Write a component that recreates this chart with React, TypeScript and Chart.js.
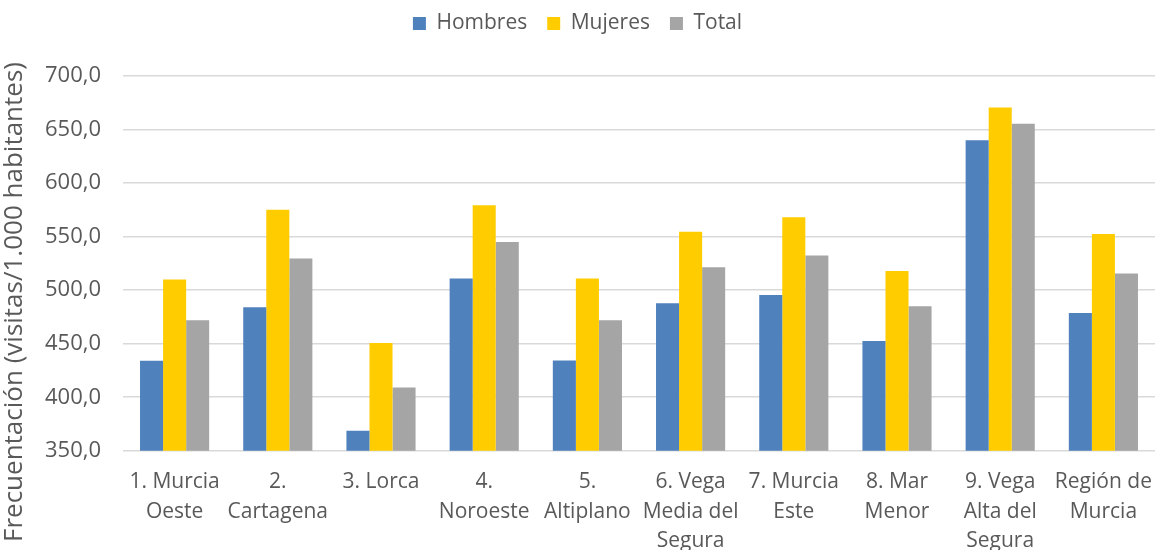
import React, { useEffect, useRef } from "react";
import { Chart, registerables } from "chart.js";

Chart.register(...registerables);

const categories: (string | string[])[] = [
  ["1. Murcia", "Oeste"],
  ["2.", "Cartagena"],
  "3. Lorca",
  ["4.", "Noroeste"],
  ["5.", "Altiplano"],
  ["6. Vega", "Media del", "Segura"],
  ["7. Murcia", "Este"],
  ["8. Mar", "Menor"],
  ["9. Vega", "Alta del", "Segura"],
  ["Región de", "Murcia"],
];

const hombres = [434, 484, 368.8, 511, 434.4, 487.7, 495.4, 452.5, 640, 478.7];
const mujeres = [510, 575, 450.6, 579.4, 511, 554.6, 568.2, 517.9, 670.7, 552.5];
const total = [472, 529.6, 409, 545, 472, 521.3, 532.4, 484.9, 655.3, 515.5];

const seriesNames = ["Hombres", "Mujeres", "Total"];
const seriesColors = ["#4F81BD", "#FFCC00", "#A5A5A5"];

const yMin = 350;
const yMax = 700;
const yStep = 50;
const yTitle = "Frecuentación (visitas/1.000 habitantes)";

const FONT = "'Open Sans', 'Noto Sans', sans-serif";
const TEXT = "#595959";
const CANVAS_H = 573;

const legendGap = {
  id: "legendGap",
  beforeInit(chart: any) {
    const legend = chart.legend;
    if (!legend) return;
    const orig = legend.fit;
    legend.fit = function () {
      orig.call(this);
      this.height += 32;
    };
  },
};

const yTitlePlugin = {
  id: "yTitlePlugin",
  afterDraw(chart: any) {
    const ctx = chart.ctx;
    ctx.save();
    ctx.translate(15, 302);
    ctx.rotate(-Math.PI / 2);
    ctx.fillStyle = TEXT;
    ctx.font = `26px ${FONT}`;
    ctx.textAlign = "center";
    ctx.textBaseline = "middle";
    ctx.fillText(yTitle, 0, 0);
    ctx.restore();
  },
};

export default function App() {
  const ref = useRef<HTMLCanvasElement | null>(null);

  useEffect(() => {
    document.body.style.margin = "0";
    if (!ref.current) return;
    const values = [hombres, mujeres, total];
    const chart = new Chart(ref.current, {
      type: "bar",
      data: {
        labels: categories,
        datasets: seriesNames.map((name, i) => ({
          label: name,
          data: values[i],
          backgroundColor: seriesColors[i],
          borderWidth: 0,
          categoryPercentage: 0.67,
          barPercentage: 1,
        })),
      },
      plugins: [legendGap, yTitlePlugin],
      options: {
        animation: false,
        responsive: false,
        maintainAspectRatio: false,
        layout: { padding: { top: -7, left: 0, right: 0, bottom: 0 } },
        plugins: {
          legend: {
            position: "top",
            labels: {
              boxWidth: 13,
              boxHeight: 13,
              color: TEXT,
              font: { family: FONT, size: 21 },
              padding: 20,
            },
          },
          tooltip: { enabled: false },
        },
        scales: {
          x: {
            grid: { display: false, drawTicks: false },
            border: { display: false },
            ticks: {
              color: TEXT,
              font: { family: FONT, size: 21, lineHeight: 1.4 },
              maxRotation: 0,
              minRotation: 0,
              autoSkip: false,
              padding: 17,
            },
            afterFit(scale: any) {
              scale.paddingLeft = 0;
              scale.paddingRight = 0;
            },
          },
          y: {
            min: yMin,
            max: yMax,
            grid: { color: "#D9D9D9", lineWidth: 1.6, drawTicks: false },
            border: { display: false },
            ticks: {
              stepSize: yStep,
              color: TEXT,
              font: { family: FONT, size: 22 },
              padding: 22,
              callback: (v: any) => Number(v).toFixed(1).replace(".", ","),
            },
            afterFit(scale: any) {
              scale.width = 123;
            },
          },
        },
      },
    });
    return () => chart.destroy();
  }, []);

  return (
    <div style={{ position: "absolute", left: 0, top: 0, width: 1155, height: 550, overflow: "hidden" }}>
      <canvas ref={ref} width={1155} height={CANVAS_H} style={{ width: 1155, height: CANVAS_H }} />
    </div>
  );
}
